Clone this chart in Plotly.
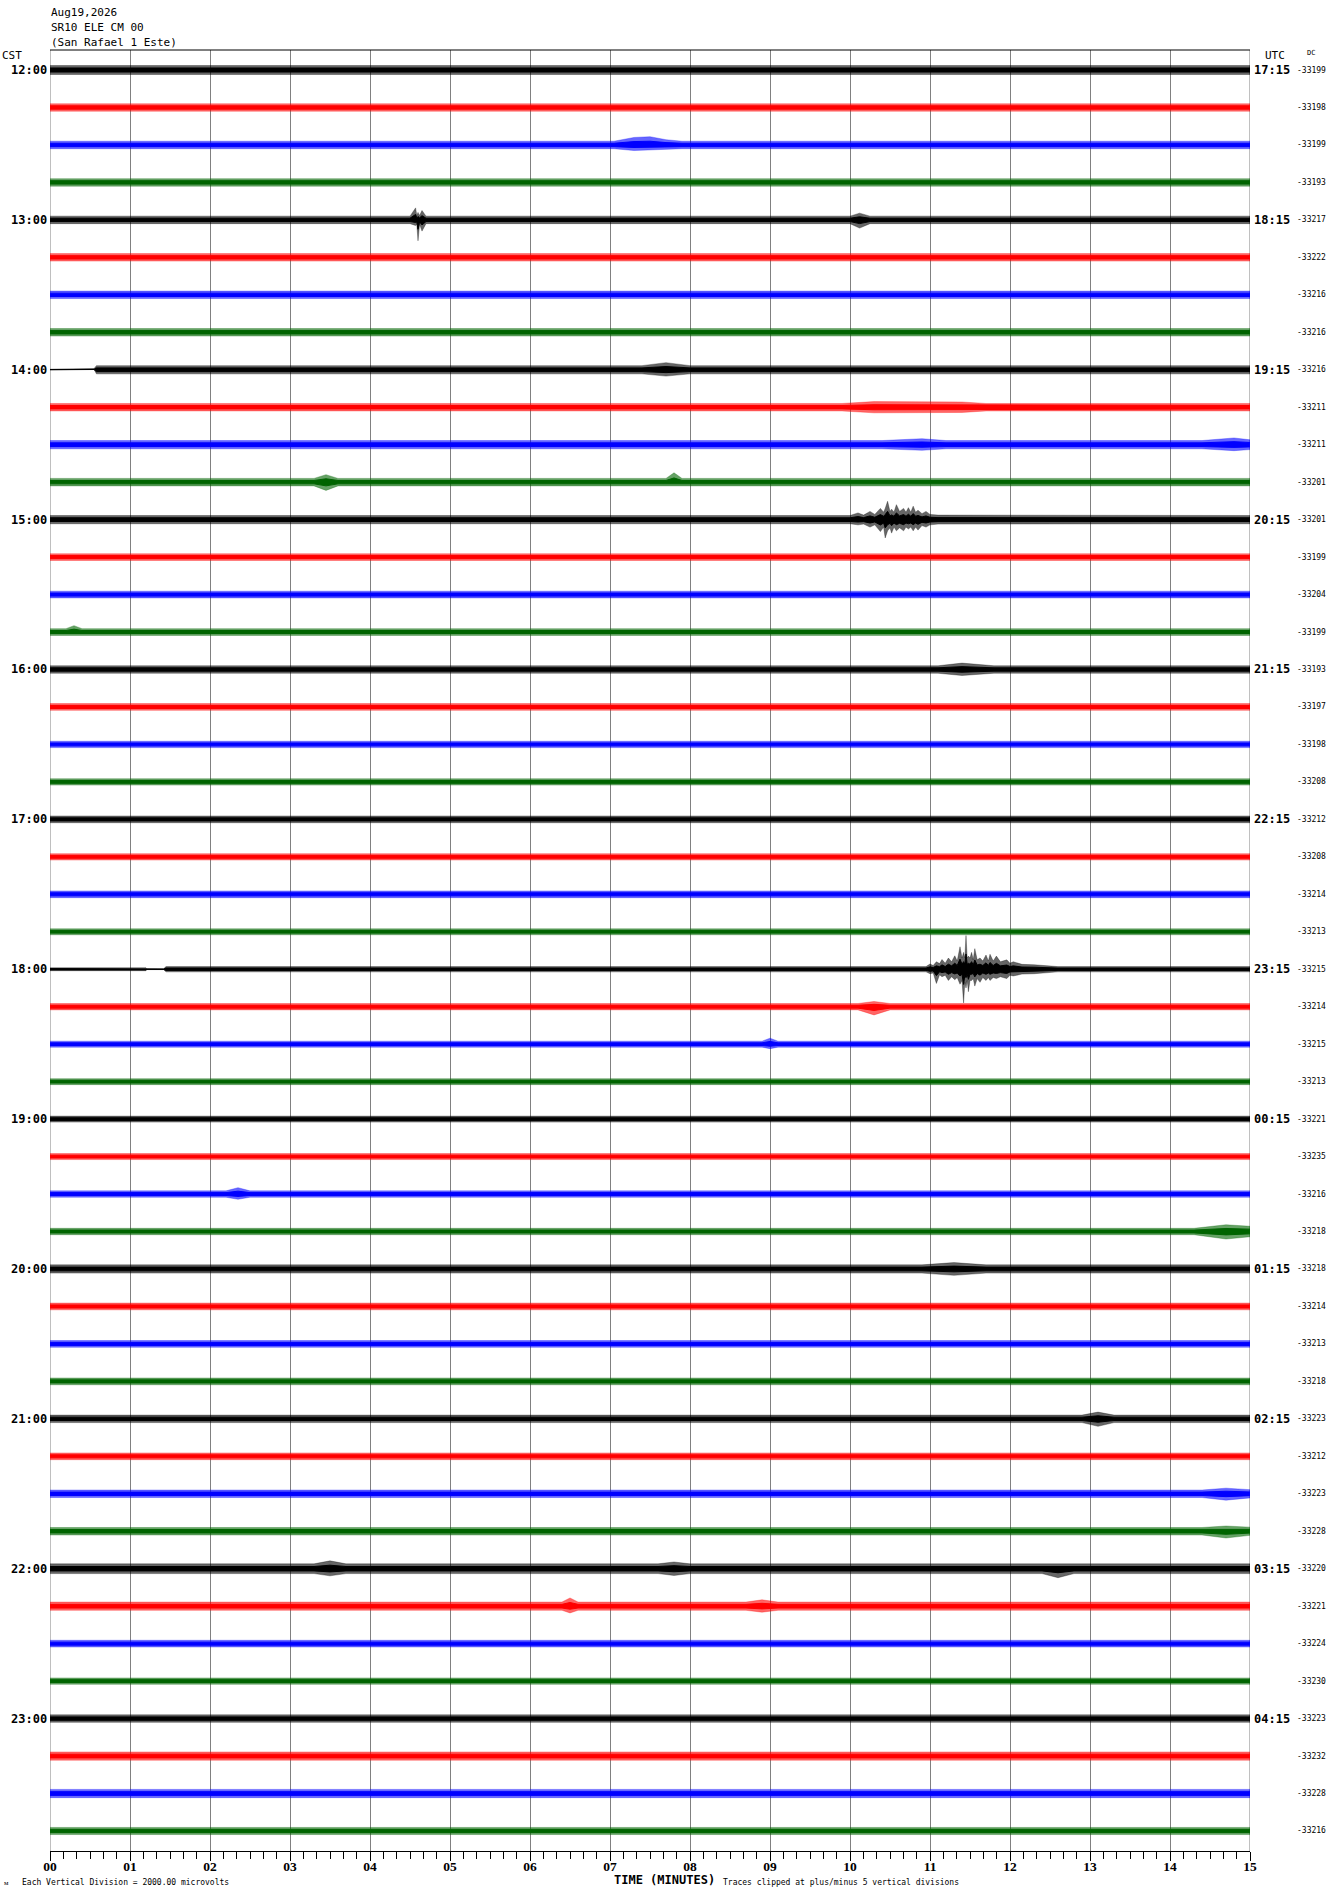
import plotly.graph_objects as go

# ---------------- data ----------------
CST_LABELS = ["12:00", "13:00", "14:00", "15:00", "16:00", "17:00",
              "18:00", "19:00", "20:00", "21:00", "22:00", "23:00"]
UTC_LABELS = ["17:15", "18:15", "19:15", "20:15", "21:15", "22:15",
              "23:15", "00:15", "01:15", "02:15", "03:15", "04:15"]
DC_VALUES = [-33199, -33198, -33199, -33193, -33217, -33222, -33216, -33216,
             -33216, -33211, -33211, -33201, -33201, -33199, -33204, -33199,
             -33193, -33197, -33198, -33208, -33212, -33208, -33214, -33213,
             -33215, -33214, -33215, -33213, -33221, -33235, -33216, -33218,
             -33218, -33214, -33213, -33218, -33223, -33212, -33223, -33228,
             -33220, -33221, -33224, -33230, -33223, -33232, -33228, -33216]
TRACE_COLORS = ["#000000", "#ff0000", "#0000ff", "#006400"]
TRACE_FILLS = ["rgba(0,0,0,0.6)", "rgba(255,0,0,0.6)", "rgba(0,0,255,0.6)", "rgba(0,100,0,0.6)"]
MINUTE_LABELS = ["00", "01", "02", "03", "04", "05", "06", "07", "08",
                 "09", "10", "11", "12", "13", "14", "15"]

# typical half-width of the noise band of each line (in trace spacings)
BASE_AMP = [0.12, 0.10, 0.10, 0.10, 0.10, 0.10, 0.10, 0.10,
            0.11, 0.10, 0.11, 0.10, 0.11, 0.09, 0.09, 0.09,
            0.10, 0.09, 0.085, 0.085, 0.09, 0.085, 0.09, 0.08,
            0.07, 0.085, 0.08, 0.08, 0.08, 0.08, 0.085, 0.085,
            0.11, 0.09, 0.09, 0.09, 0.10, 0.09, 0.10, 0.10,
            0.13, 0.11, 0.09, 0.085, 0.10, 0.11, 0.11, 0.095]

# envelope knots: (minute, up, down)
EVENT_KNOTS = {
    2: [(7.05, 0.10, 0.10), (7.3, 0.20, 0.15), (7.5, 0.22, 0.13), (7.7, 0.14, 0.12), (7.9, 0.10, 0.10)],
    4: [(4.5, 0.10, 0.10), (4.57, 0.32, 0.15), (4.585, 0.12, 0.12), (4.6, 0.20, 0.56),
        (4.62, 0.12, 0.12), (4.65, 0.25, 0.30), (4.7, 0.10, 0.10),
        (10.0, 0.10, 0.10), (10.12, 0.18, 0.22), (10.25, 0.10, 0.10)],
    8: [(0.0, 0.015, 0.0), (0.2, 0.015, 0.0), (0.21, 0.03, -0.015), (0.55, 0.03, -0.015),
        (0.58, 0.11, 0.11), (7.4, 0.11, 0.11), (7.7, 0.19, 0.17), (8.0, 0.11, 0.11)],
    9: [(9.9, 0.10, 0.10), (10.3, 0.15, 0.15), (11.4, 0.14, 0.14), (11.7, 0.10, 0.10)],
    10: [(10.4, 0.11, 0.11), (10.9, 0.16, 0.15), (11.2, 0.11, 0.11),
         (14.4, 0.11, 0.11), (14.8, 0.18, 0.16), (15.0, 0.13, 0.13)],
    11: [(3.3, 0.10, 0.10), (3.45, 0.20, 0.22), (3.6, 0.10, 0.10),
         (7.7, 0.10, 0.10), (7.8, 0.25, 0.12), (7.9, 0.10, 0.10)],
    12: [(10.0, 0.11, 0.11), (10.1, 0.18, 0.14), (10.17, 0.12, 0.12), (10.25, 0.22, 0.20),
         (10.31, 0.14, 0.14), (10.38, 0.30, 0.32), (10.42, 0.20, 0.20), (10.44, 0.30, 0.49),
         (10.47, 0.49, 0.30), (10.5, 0.22, 0.22), (10.52, 0.28, 0.36), (10.55, 0.20, 0.20),
         (10.58, 0.40, 0.30), (10.62, 0.22, 0.22), (10.67, 0.30, 0.30), (10.7, 0.20, 0.20),
         (10.73, 0.32, 0.25), (10.76, 0.20, 0.20), (10.79, 0.36, 0.30), (10.82, 0.20, 0.20),
         (10.85, 0.25, 0.28), (10.9, 0.16, 0.16), (10.95, 0.22, 0.20), (11.0, 0.14, 0.14),
         (11.1, 0.12, 0.12)],
    15: [(0.2, 0.09, 0.09), (0.3, 0.17, 0.10), (0.4, 0.09, 0.09)],
    16: [(11.1, 0.10, 0.10), (11.4, 0.17, 0.16), (11.8, 0.10, 0.10)],
    24: [(0.0, 0.04, 0.04), (1.2, 0.04, 0.04), (1.21, 0.01, 0.01), (1.42, 0.01, 0.01),
         (1.45, 0.07, 0.07), (10.95, 0.07, 0.07), (11.0, 0.14, 0.12), (11.04, 0.10, 0.10),
         (11.08, 0.20, 0.38), (11.12, 0.15, 0.15), (11.15, 0.26, 0.20), (11.19, 0.16, 0.16),
         (11.23, 0.30, 0.30), (11.27, 0.20, 0.20), (11.31, 0.36, 0.28), (11.34, 0.22, 0.22),
         (11.375, 0.60, 0.40), (11.4, 0.30, 0.30), (11.42, 0.45, 0.90), (11.435, 0.30, 0.35),
         (11.45, 0.90, 0.50), (11.465, 0.30, 0.30), (11.48, 0.35, 0.60), (11.5, 0.30, 0.30),
         (11.52, 0.45, 0.30), (11.54, 0.25, 0.25), (11.56, 0.55, 0.45), (11.59, 0.25, 0.25),
         (11.625, 0.30, 0.35), (11.66, 0.22, 0.22), (11.7, 0.38, 0.30), (11.73, 0.22, 0.22),
         (11.75, 0.40, 0.30), (11.79, 0.22, 0.22), (11.83, 0.35, 0.25), (11.88, 0.20, 0.20),
         (11.96, 0.25, 0.25), (12.0, 0.16, 0.16), (12.04, 0.20, 0.18), (12.15, 0.13, 0.13),
         (12.3, 0.12, 0.12), (12.5, 0.09, 0.09), (12.6, 0.07, 0.07)],
    25: [(10.1, 0.085, 0.085), (10.3, 0.14, 0.22), (10.5, 0.085, 0.085)],
    26: [(8.9, 0.08, 0.08), (9.0, 0.16, 0.12), (9.1, 0.08, 0.08)],
    30: [(2.2, 0.085, 0.085), (2.35, 0.17, 0.14), (2.5, 0.085, 0.085)],
    31: [(14.3, 0.085, 0.085), (14.7, 0.18, 0.20), (15.0, 0.14, 0.14)],
    32: [(10.9, 0.11, 0.11), (11.3, 0.17, 0.17), (11.7, 0.11, 0.11)],
    36: [(12.9, 0.10, 0.10), (13.1, 0.18, 0.20), (13.3, 0.10, 0.10)],
    38: [(14.4, 0.10, 0.10), (14.7, 0.15, 0.17), (15.0, 0.11, 0.11)],
    39: [(14.4, 0.10, 0.10), (14.7, 0.14, 0.18), (15.0, 0.11, 0.11)],
    40: [(3.3, 0.13, 0.13), (3.5, 0.21, 0.19), (3.7, 0.13, 0.13),
         (7.6, 0.13, 0.13), (7.8, 0.18, 0.18), (8.0, 0.13, 0.13),
         (12.4, 0.13, 0.13), (12.6, 0.15, 0.24), (12.8, 0.13, 0.13)],
    41: [(6.4, 0.11, 0.11), (6.5, 0.22, 0.18), (6.6, 0.11, 0.11),
         (8.7, 0.11, 0.11), (8.9, 0.17, 0.16), (9.1, 0.11, 0.11)],
}

N_TRACES = len(DC_VALUES)

# ---------------- layout geometry ----------------
W, H = 1330, 1894
ML, MR, MT, MB = 50, 80, 50, 43
Y_PAD = 0.534
Y_RANGE = [-(N_TRACES - 1) - Y_PAD, Y_PAD]
PLOT_H = H - MT - MB
PLOT_W = W - ML - MR


def pap_x(p):
    return (p - ML) / PLOT_W


def pap_y(p):
    return (H - MB - p) / PLOT_H


def trace_pap_y(i):
    return (-i - Y_RANGE[0]) / (Y_RANGE[1] - Y_RANGE[0])


fig = go.Figure()

for i in range(N_TRACES):
    a = BASE_AMP[i]
    knots = EVENT_KNOTS.get(i, [])
    if not knots or knots[0][0] > 0:
        knots = [(0.0, a, a)] + knots
    if knots[-1][0] < 15:
        knots = knots + [(15.0, a, a)]
    base = -i
    xs = [k[0] for k in knots] + [k[0] for k in reversed(knots)]
    ys = [base + k[1] for k in knots] + [base - k[2] for k in reversed(knots)]
    col = TRACE_COLORS[i % 4]
    # outer envelope (spikes), lighter
    fig.add_trace(go.Scatter(
        x=xs, y=ys, mode="lines", fill="toself", fillcolor=TRACE_FILLS[i % 4],
        line=dict(color=TRACE_FILLS[i % 4], width=0.5), hoverinfo="skip", showlegend=False))
    # dense core of the trace
    ys_core = [base + 0.45 * k[1] for k in knots] + [base - 0.45 * k[2] for k in reversed(knots)]
    fig.add_trace(go.Scatter(
        x=xs, y=ys_core, mode="lines", fill="toself", fillcolor=col,
        line=dict(color=col, width=1), hoverinfo="skip", showlegend=False))

mono = "DejaVu Sans Mono"
ann = []
# header
for k, txt in enumerate(["Aug19,2026", "SR10 ELE CM 00", "(San Rafael 1 Este)"]):
    ann.append(dict(x=pap_x(49), y=pap_y(12 + 15 * k), text=txt, xanchor="left",
                    yanchor="middle", font=dict(family=mono, size=11, color="black")))
ann.append(dict(x=pap_x(0), y=pap_y(56), text="CST", xanchor="left", yanchor="middle",
                font=dict(family=mono, size=11, color="black")))
ann.append(dict(x=pap_x(1263), y=pap_y(56), text="UTC", xanchor="left", yanchor="middle",
                font=dict(family=mono, size=11, color="black")))
ann.append(dict(x=pap_x(1305), y=pap_y(53), text="DC", xanchor="left", yanchor="middle",
                font=dict(family=mono, size=7, color="black")))
for h in range(len(CST_LABELS)):
    ann.append(dict(x=pap_x(49), y=trace_pap_y(4 * h), text=CST_LABELS[h], xanchor="right",
                    yanchor="middle", font=dict(family=mono, size=12, color="black", weight="bold")))
    ann.append(dict(x=pap_x(1252), y=trace_pap_y(4 * h), text=UTC_LABELS[h], xanchor="left",
                    yanchor="middle", font=dict(family=mono, size=12, color="black", weight="bold")))
for i, v in enumerate(DC_VALUES):
    ann.append(dict(x=pap_x(1295), y=trace_pap_y(i), text=str(v), xanchor="left",
                    yanchor="middle", font=dict(family=mono, size=8, color="black")))
# bottom texts
ann.append(dict(x=pap_x(2), y=pap_y(1883), text="\u1d0d", xanchor="left", yanchor="middle",
                font=dict(family=mono, size=7, color="black")))
ann.append(dict(x=pap_x(20), y=pap_y(1882), text="Each Vertical Division = 2000.00 microvolts",
                xanchor="left", yanchor="middle", font=dict(family=mono, size=8, color="black")))
ann.append(dict(x=pap_x(612), y=pap_y(1880), text="TIME (MINUTES)", xanchor="left",
                yanchor="middle", font=dict(family=mono, size=12, color="black", weight="bold")))
ann.append(dict(x=pap_x(721), y=pap_y(1882),
                text="Traces clipped at plus/minus 5 vertical divisions",
                xanchor="left", yanchor="middle", font=dict(family=mono, size=8, color="black")))
for a_ in ann:
    a_.update(xref="paper", yref="paper", showarrow=False)

shapes = [
    dict(type="line", xref="paper", yref="paper", x0=0, x1=1, y0=1, y1=1,
         line=dict(color="black", width=1), layer="above"),
    dict(type="line", xref="x", yref="paper", x0=0, x1=0, y0=0, y1=1,
         line=dict(color="#808080", width=1), layer="below"),
    dict(type="line", xref="x", yref="paper", x0=15, x1=15, y0=0, y1=1,
         line=dict(color="#808080", width=1), layer="below"),
]

fig.update_layout(
    width=W, height=H,
    margin=dict(l=ML, r=MR, t=MT, b=MB, pad=0),
    paper_bgcolor="white", plot_bgcolor="white",
    showlegend=False,
    annotations=ann, shapes=shapes,
    xaxis=dict(range=[0, 15], tickvals=list(range(16)), ticktext=MINUTE_LABELS,
               showgrid=True, gridcolor="#808080", gridwidth=1, zeroline=False,
               showline=True, linecolor="black", linewidth=1,
               ticks="outside", ticklen=9, tickcolor="black", tickwidth=1,
               ticklabelstandoff=-6,
               tickfont=dict(family="Liberation Serif", size=13.5, color="black", weight="bold"),
               minor=dict(dtick=1 / 6, tick0=0, ticks="outside", ticklen=7,
                          tickcolor="black", tickwidth=1, showgrid=False),
               fixedrange=True),
    yaxis=dict(range=Y_RANGE, visible=False, fixedrange=True),
)

fig.write_html("out.html", config={"displayModeBar": False, "staticPlot": True},
               post_script="document.body.style.margin='0';")
